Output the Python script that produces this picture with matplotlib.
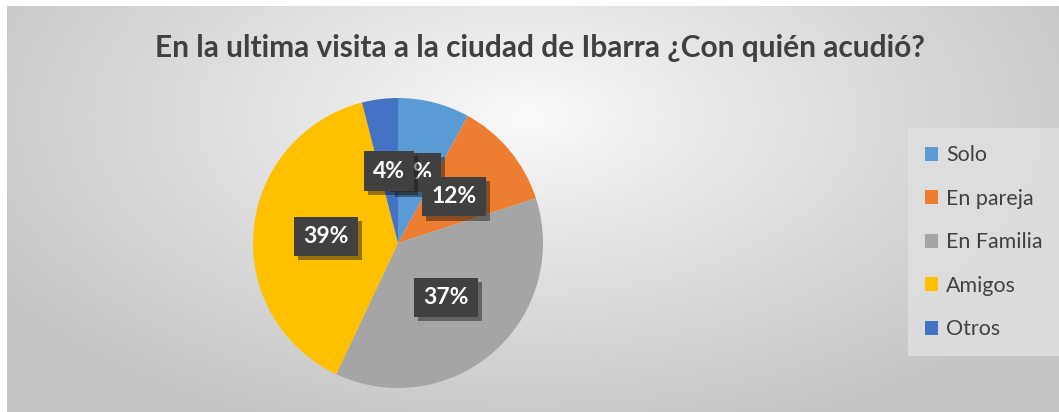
import numpy as np
import matplotlib
matplotlib.use("Agg")
import matplotlib.pyplot as plt
import matplotlib.patheffects as pe
from matplotlib.patches import Patch

# data
categories = ["Solo", "En pareja", "En Familia", "Amigos", "Otros"]
shares = [8, 12, 37, 39, 4]
colors = ["#5B9BD5", "#ED7D31", "#A5A5A5", "#FFC000", "#4472C4"]
title = "En la ultima visita a la ciudad de Ibarra ¿Con quién acudió?"

W, H = 1059, 412
plt.rcParams['font.family'] = ['Lato', 'DejaVu Sans']
fig = plt.figure(figsize=(W / 100, H / 100), dpi=100)
fig.patch.set_facecolor("white")

# radial grey background of the chart area
bg = fig.add_axes([7 / W, 0, 1 - 7 / W, (H - 6) / H])
bg.set_axis_off()
yy, xx = np.mgrid[0:H - 6, 0:W - 7]
r = np.sqrt(((xx - 520) / 620.0) ** 2 + ((yy - 110) / 330.0) ** 2)
r = np.clip(r, 0, 1)
v = 0.985 - (0.985 - 0.775) * r ** 0.9
bg.imshow(np.dstack([v, v, v]), aspect="auto", interpolation="bilinear")

fig.text(540 / W, 1 - 48 / H, title, ha="center", va="center",
         fontsize=21.5, fontweight="bold", color="#404040")

# pie
cx, cy, R = 398, 243, 145
ax = fig.add_axes([(cx - R) / W, (H - cy - R) / H, 2 * R / W, 2 * R / H])
wedges, texts, autotexts = ax.pie(
    shares, colors=colors, startangle=90, counterclock=False,
    autopct="%1.0f%%", pctdistance=0.5, radius=1,
    wedgeprops=dict(linewidth=0),
    textprops=dict(color="white", fontsize=16.5, fontweight="bold"))
ax.set_xlim(-1, 1)
ax.set_ylim(-1, 1)
ax.set_aspect("equal")
for t in autotexts:
    t.set_bbox(dict(boxstyle="square,pad=0.4", facecolor="#404040",
                    edgecolor="none"))
    t.get_bbox_patch().set_path_effects(
        [pe.SimplePatchShadow(offset=(3, -3), alpha=0.45), pe.Normal()])

# legend
handles = [Patch(facecolor=c, edgecolor="none") for c in colors]
leg = fig.legend(handles, categories, loc="upper left",
                 bbox_to_anchor=(908 / W, 1 - 128 / H), frameon=True,
                 fontsize=15.4, labelspacing=1.1, handlelength=0.62,
                 handleheight=0.62, handletextpad=0.35, borderpad=0.8,
                 fancybox=False, borderaxespad=0)
leg.get_frame().set_facecolor("#E1E1E1")
leg.get_frame().set_edgecolor("none")
for t in leg.get_texts():
    t.set_color("#404040")

fig.savefig("out.png", dpi=100)
